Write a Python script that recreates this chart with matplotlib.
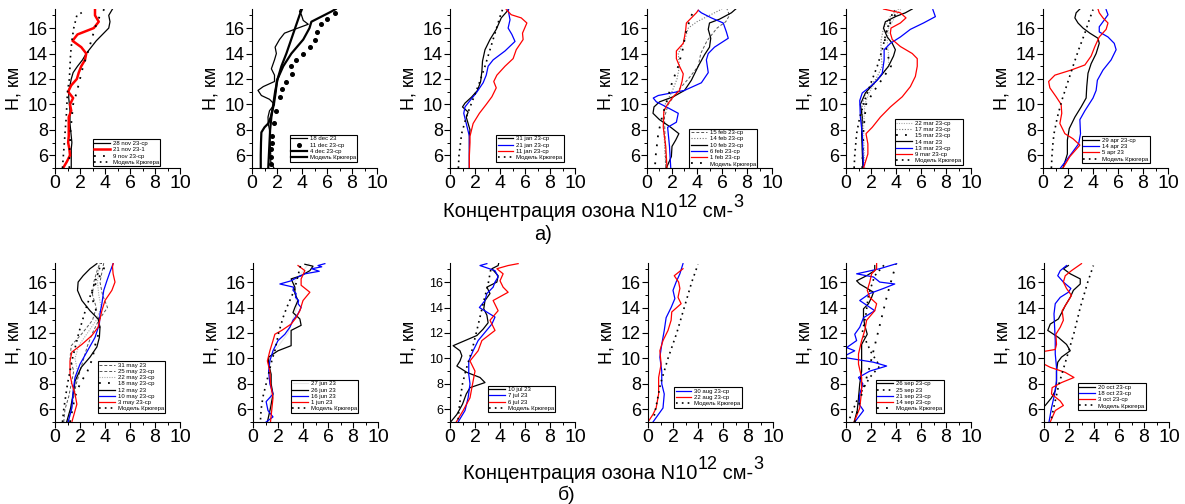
import matplotlib
matplotlib.use("Agg")
import matplotlib.pyplot as plt
from matplotlib.ticker import MultipleLocator

plt.rcParams['font.family'] = ['Liberation Sans', 'DejaVu Sans']

MODEL = 'Модель Крюгера'

# ---- November ----
nov28_h = [5, 5.5, 6, 6.5, 7, 7.5, 8, 8.5, 9, 9.5, 10, 10.5, 11, 11.5, 12, 12.5, 13, 13.5, 14, 14.5, 15, 15.5, 16, 16.5, 17, 17.5]
nov28_x = [1.3, 1.3, 1.3, 1.3, 1.35, 1.3, 1.25, 1.2, 1.2, 1.2, 1.15, 1.1, 1.1, 1.2, 1.3, 1.45, 1.8, 2.2, 2.5, 2.9, 3.3, 3.8, 4.3, 4.4, 4.3, 4.6]
nov21_h = nov28_h
nov21_x = [0.65, 0.95, 1.2, 1.15, 1.05, 1.1, 1.1, 1.1, 1.1, 1.3, 1.2, 1.45, 1.05, 1.3, 1.75, 1.9, 2.1, 2.4, 2.5, 2.1, 1.4, 1.8, 3.1, 3.5, 3.2, 3.2]
nov9_h = [5, 6, 7, 8, 9, 10, 11, 12, 13, 14, 15, 16, 17, 17.5]
nov9_x = [1.15, 1.15, 1.2, 1.25, 1.35, 1.45, 1.75, 2.0, 2.25, 2.6, 2.9, 3.2, 3.6, 3.95]
nov_model_h = [5, 6, 7, 8, 9, 10, 11, 12, 13, 14, 15, 16, 17, 17.3]
nov_model_x = [0.6, 0.67, 0.75, 0.82, 0.9, 0.95, 1.0, 1.15, 1.2, 1.25, 1.35, 1.5, 1.75, 2.3]

# ---- December ----
dec18_h = [5, 5.5, 6, 7, 8, 8.5, 9, 9.5, 10, 10.4, 10.7, 11.1, 11.4, 11.8, 12.3, 12.8, 13.5, 14, 14.5, 15.1, 15.6, 15.9, 16.3, 16.6, 17.05, 17.3, 17.5]
dec18_x = [1.75, 1.5, 1.5, 1.45, 1.4, 1.3, 1.28, 1.4, 1.8, 1.4, 0.75, 0.48, 0.9, 1.8, 1.8, 1.55, 1.8, 1.95, 1.85, 2.2, 2.6, 3.4, 4.5, 4.1, 3.95, 3.8, 3.9]
dec11_h = [5.3, 5.9, 6.5, 7, 7.5, 8.5, 9.5, 10.6, 11.25, 11.8, 12.4, 13.0, 13.5, 14.0, 14.5, 15.1, 15.7, 16.3, 16.7, 17.2]
dec11_x = [1.5, 1.55, 1.55, 1.6, 1.6, 1.75, 1.95, 2.2, 2.4, 2.75, 3.2, 3.15, 3.55, 4.1, 4.6, 5.05, 5.2, 5.5, 6.0, 6.6]
dec4_h = [5, 6, 7, 7.8, 8.2, 8.5, 9, 10, 11, 11.9, 13, 14, 15.1, 16, 16.5, 16.9, 17.3, 17.5]
dec4_x = [0.7, 0.7, 0.72, 0.75, 1.0, 1.3, 1.5, 1.75, 1.9, 2.0, 2.5, 3.15, 4.1, 4.6, 4.75, 5.55, 6.35, 6.7]
dec_model_h = [5, 6, 7, 8, 9, 10, 11, 12, 13, 14, 15, 16, 17, 17.5]
dec_model_x = [1.3, 1.35, 1.4, 1.45, 1.55, 1.7, 1.85, 2.05, 2.35, 2.75, 3.1, 3.45, 3.8, 4.0]

# ---- January ----
jan31_h = [5, 6, 7, 7.5, 8, 8.5, 9, 9.4, 9.8, 10.1, 10.6, 11.1, 11.8, 12.6, 13.4, 14.3, 15.1, 15.9, 16.8, 17.3, 17.5]
jan31_x = [1.55, 1.55, 1.55, 1.55, 1.6, 1.45, 1.3, 1.45, 1.0, 1.2, 1.75, 2.2, 2.45, 2.55, 2.6, 2.8, 3.2, 3.7, 4.1, 4.55, 4.7]
jan21_h = [5, 6, 7, 7.5, 8.5, 9.3, 9.8, 10.3, 10.9, 11.7, 12.3, 13, 13.5, 14.2, 14.95, 15.5, 16, 16.65, 17.45]
jan21_x = [1.55, 1.55, 1.55, 1.55, 1.3, 1.1, 1.2, 1.6, 2.1, 2.65, 2.9, 3.05, 3.45, 4.4, 5.2, 4.95, 4.65, 4.8, 4.65]
jan11_h = [5, 6, 7, 7.5, 8.5, 9.3, 10, 10.6, 11.3, 11.8, 12.3, 13, 13.6, 14.3, 15.1, 15.6, 16.4, 16.8, 17.05, 17.45]
jan11_x = [1.55, 1.55, 1.6, 1.6, 1.85, 2.35, 2.9, 3.35, 3.7, 3.5, 3.75, 4.4, 5.05, 5.3, 5.85, 5.8, 6.15, 5.7, 4.9, 4.5]
jan_model_h = [5, 6, 7.7, 9, 10.3, 11.7, 13, 14.3, 15.6, 16.9, 17.45]
jan_model_x = [0.67, 0.72, 0.93, 1.3, 1.8, 2.35, 2.8, 3.2, 3.6, 4.0, 4.2]

# ---- February ----
feb15_h = [5, 7, 9, 10, 11, 12, 13, 14, 15, 16, 16.5, 17, 17.5]
feb15_x = [1.5, 1.45, 1.4, 1.7, 2.4, 3.3, 4.1, 4.3, 4.8, 5.6, 6.3, 6.6, 6.4]
feb14_h = [5, 7, 9, 10, 11, 12, 13, 14, 15, 16, 16.5, 17, 17.5]
feb14_x = [1.5, 1.4, 1.3, 1.45, 2.0, 2.4, 2.6, 2.5, 3.0, 3.3, 4.0, 5.0, 6.0]
feb10_h = [5, 5.9, 6.7, 7.2, 7.7, 8.2, 8.8, 9.3, 9.8, 10.2, 10.6, 11.1, 11.9, 13, 13.9, 14.5, 15.2, 15.9, 16.4, 16.7, 17.2, 17.5]
feb10_x = [1.55, 1.95, 2.0, 2.3, 2.55, 1.9, 1.0, 0.48, 0.56, 1.0, 2.1, 3.0, 3.55, 4.1, 4.6, 5.0, 5.1, 4.9, 5.0, 5.8, 6.75, 7.1]
feb6_h = [5, 6.7, 7.7, 8.2, 8.6, 9.3, 9.8, 10.2, 10.5, 10.7, 11.1, 11.7, 12.5, 13.5, 14, 14.5, 15.2, 15.7, 16.4, 16.8, 17.2, 17.4]
feb6_x = [1.9, 1.8, 1.7, 1.65, 2.35, 2.5, 1.55, 0.75, 0.5, 0.9, 3.0, 4.35, 4.9, 4.75, 4.9, 5.4, 6.5, 6.35, 6.1, 5.15, 4.35, 4.1]
feb1_h = [5, 6.7, 8.2, 9.5, 10.1, 10.6, 11.1, 11.8, 12.4, 13, 13.6, 14.2, 14.8, 15.3, 15.9, 16.4, 16.8, 17.2, 17.4]
feb1_x = [1.6, 1.5, 1.3, 1.35, 1.7, 2.1, 2.6, 2.8, 2.9, 2.6, 2.35, 2.35, 2.9, 3.0, 3.1, 3.15, 3.55, 3.95, 4.1]
feb_model_h = [5.3, 6, 7.7, 9, 10.3, 11.7, 13, 14.3, 15.6, 16.9, 17.4]
feb_model_x = [0.65, 0.7, 0.9, 1.2, 1.6, 2.0, 2.5, 2.85, 3.1, 3.5, 3.8]

# ---- March ----
mar_dot_h = [5, 8, 10, 11, 12, 13, 14, 15, 16, 17, 17.5]
mar22_x = [1.5, 1.4, 1.5, 1.9, 2.5, 3.4, 3.4, 3.3, 3.4, 4.0, 4.4]
mar17_x = [1.4, 1.3, 1.3, 1.6, 2.4, 2.9, 2.8, 2.8, 3.0, 3.6, 4.2]
mar15_x = [1.3, 1.4, 1.6, 2.2, 2.9, 3.6, 3.3, 3.1, 3.3, 3.9, 4.1]
mar14_h = [5, 7.7, 9, 10, 10.9, 11.5, 12.2, 13, 13.8, 14.3, 14.8, 15.3, 16, 16.5, 16.9, 17.2, 17.5]
mar14_x = [1.35, 1.25, 1.3, 1.15, 1.55, 2.1, 2.75, 3.4, 3.8, 3.95, 3.7, 3.3, 3.0, 3.15, 3.95, 4.75, 5.3]
mar13_h = [5, 7.7, 9, 10.3, 10.9, 11.4, 11.9, 12.45, 13.5, 14.3, 14.8, 15.3, 15.9, 16.4, 16.9, 17.45]
mar13_x = [1.4, 1.3, 1.15, 1.1, 1.3, 1.95, 2.5, 2.9, 3.05, 3.05, 3.55, 4.35, 5.15, 6.2, 7.15, 6.95]
mar9_h = [5, 6.1, 6.9, 7.7, 8.2, 9, 9.8, 10.6, 11.4, 12.2, 13, 13.6, 14, 14.55, 15.1, 15.6, 16, 16.4, 16.8, 17.2, 17.5]
mar9_x = [1.4, 1.75, 1.75, 1.6, 2.1, 2.75, 3.55, 4.5, 5.15, 5.55, 5.7, 5.7, 5.3, 4.35, 3.7, 3.55, 3.6, 4.35, 4.8, 4.35, 3.0]
mar_model_h = [5, 6, 7.7, 9, 10.3, 11.7, 13, 14.3, 15.6, 16.9, 17.4]
mar_model_x = [0.65, 0.7, 0.85, 1.1, 1.5, 2.0, 2.5, 2.9, 3.2, 3.6, 3.9]

# ---- April ----
apr29_h = [5, 6.1, 7.2, 8.1, 9, 9.8, 10.5, 11.4, 12.45, 13.2, 14, 14.8, 15.2, 15.6, 16, 16.4, 16.8, 17.2, 17.5]
apr29_x = [1.6, 1.95, 1.95, 2.1, 2.55, 3.05, 3.45, 3.5, 3.6, 3.85, 4.25, 4.5, 4.4, 3.75, 3.2, 2.8, 2.55, 2.65, 2.95]
apr14_h = [5, 6.1, 6.9, 7.7, 8.8, 9.5, 10.5, 11.1, 11.9, 12.7, 13.5, 14.3, 14.8, 15.3, 15.7, 16.1, 16.5, 17.05, 17.45]
apr14_x = [1.4, 2.25, 2.85, 3.0, 2.95, 3.35, 4.0, 4.25, 4.35, 4.8, 5.45, 5.85, 5.7, 5.2, 4.5, 4.5, 4.8, 5.2, 5.05]
apr5_h = [5, 5.9, 6.8, 7.3, 7.7, 8.5, 9.3, 10, 10.6, 11.3, 11.8, 12.3, 12.7, 13.1, 13.8, 14.55, 15.3, 15.9, 16.4, 16.8, 17.2, 17.5]
apr5_x = [1.6, 2.15, 2.95, 2.4, 1.75, 1.35, 1.5, 1.45, 1.05, 0.55, 0.45, 0.95, 2.25, 3.35, 3.85, 4.15, 4.5, 5.05, 5.2, 4.8, 4.5, 4.4]
apr_model_h = [5, 6, 7, 7.7, 9, 10.3, 11.5, 13, 14.3, 15.6, 16.5, 17.45]
apr_model_x = [0.67, 0.72, 0.8, 0.88, 1.15, 1.5, 1.9, 2.4, 2.85, 3.35, 3.65, 4.0]

# ---- May ----
may_dash_h = [5, 6, 7, 8, 9, 10, 11, 12, 13, 14, 15, 16, 17, 17.5]
may31_x = [0.7, 0.8, 1.1, 1.3, 1.5, 1.2, 1.3, 2.2, 3.0, 3.3, 3.0, 3.1, 3.4, 3.6]
may25_x = [1.0, 1.3, 1.5, 1.7, 2.0, 2.3, 2.6, 3.0, 3.5, 4.2, 3.8, 3.6, 3.8, 3.9]
may22_x = [1.1, 1.25, 1.4, 1.6, 1.8, 1.6, 1.9, 2.6, 3.3, 3.7, 3.5, 3.4, 3.5, 3.6]
may18_x = [1.2, 1.4, 1.6, 2.0, 2.6, 3.0, 3.2, 3.5, 3.6, 3.2, 2.9, 3.3, 3.9, 4.0]
may12_h = [5, 6.1, 7.45, 8.2, 9.3, 10.1, 10.9, 11.65, 12.45, 13.1, 13.75, 14.55, 15.35, 16, 16.5, 17.05, 17.45]
may12_x = [0.93, 1.25, 1.5, 1.6, 2.1, 2.8, 3.35, 3.55, 3.6, 3.45, 2.8, 2.15, 1.8, 1.85, 2.25, 2.8, 3.35]
may10_h = [5, 6.1, 7.45, 8.5, 9.55, 10.6, 11.65, 12.7, 13.5, 14.3, 15.35, 16.1, 16.8, 17.45]
may10_x = [1.05, 1.35, 1.45, 1.6, 2.0, 2.6, 3.2, 3.55, 3.6, 3.75, 3.9, 4.15, 4.4, 4.65]
may3_h = [5, 6.4, 7.2, 8, 8.75, 9.8, 10.5, 11.1, 11.8, 12.45, 13.1, 13.75, 14.55, 15.35, 16, 16.65, 17.2, 17.45]
may3_x = [1.35, 1.75, 1.6, 1.35, 1.2, 1.2, 1.35, 2.15, 2.95, 3.45, 3.6, 3.75, 4.0, 4.55, 4.8, 4.65, 4.6, 4.65]
may_model_h = [5, 6, 8, 10, 12, 14, 16, 17.5]
may_model_x = [0.6, 0.7, 1.0, 1.4, 1.9, 2.5, 3.2, 3.7]

# ---- June ----
jun27_h = [5, 8, 10, 12, 14, 16, 17.5]
jun27_x = [1.2, 1.5, 1.3, 2.8, 3.5, 3.3, 4.5]
jun26_h = [5, 6.1, 7.2, 8, 8.75, 9.55, 10.1, 10.6, 11, 11.5, 12.2, 12.6, 13.1, 13.6, 14, 14.55, 15.1, 15.6, 16.25, 16.5, 16.9, 17.25, 17.4]
jun26_x = [1.15, 1.4, 1.6, 1.45, 1.45, 1.25, 1.25, 2.0, 3.05, 3.05, 3.05, 3.85, 3.75, 3.2, 3.35, 3.6, 3.35, 3.35, 3.05, 3.85, 4.55, 4.8, 4.15]
jun16_h = [5, 5.4, 5.9, 6.6, 7.2, 8, 9, 9.8, 10.6, 11.4, 11.9, 12.45, 13, 13.5, 14, 14.3, 14.55, 14.8, 15.1, 15.35, 15.6, 15.85, 16.1, 16.4, 16.65, 16.85, 17.05, 17.2, 17.3, 17.45]
jun16_x = [1.05, 1.6, 1.2, 1.05, 1.6, 1.35, 1.25, 1.35, 1.6, 2.0, 2.55, 2.95, 3.2, 3.6, 3.85, 3.6, 3.65, 3.4, 3.45, 3.2, 3.25, 2.15, 3.05, 3.6, 4.15, 5.3, 4.7, 5.5, 5.2, 5.75]
jun1_h = [5, 6.9, 8, 9, 9.8, 10.6, 11.4, 11.9, 12.2, 12.7, 13.2, 13.75, 14.55, 15.2, 15.75, 16.25, 16.9, 17.3]
jun1_x = [1.4, 1.6, 1.4, 1.35, 1.15, 1.35, 1.6, 1.75, 2.3, 3.05, 3.45, 3.75, 4.0, 4.55, 3.85, 3.85, 4.15, 3.6]
jun_model_h = [5.2, 6, 7, 8, 9, 10, 10.6, 12, 13.2, 14, 15.35, 16.5, 17.3]
jun_model_x = [0.6, 0.65, 0.8, 1.05, 1.3, 1.55, 1.75, 2.05, 2.4, 2.7, 3.3, 3.6, 3.8]

# ---- July ----
jul10_h = [5, 5.6, 6.4, 7.2, 7.7, 8.1, 8.5, 8.9, 9.4, 9.8, 10.2, 10.6, 11, 11.4, 11.8, 12.3, 12.8, 13.4, 13.9, 14.55, 15.1, 15.6, 16, 16.5, 17.05, 17.3, 17.5]
jul10_x = [0.05, 0.55, 1.0, 1.3, 1.6, 2.8, 2.4, 1.35, 0.55, 0.8, 0.95, 0.8, 0.25, 1.2, 2.15, 2.65, 3.05, 2.95, 2.7, 2.8, 3.2, 2.95, 3.75, 3.85, 3.35, 3.85, 3.9]
jul7_h = [5, 5.9, 6.9, 8, 8.75, 9.8, 10.6, 11.4, 12.05, 12.7, 13.25, 14, 14.55, 15.1, 15.6, 16, 16.4, 16.9, 17.3, 17.45]
jul7_x = [0.65, 1.2, 1.45, 1.6, 1.5, 1.5, 1.85, 2.25, 2.8, 3.35, 3.6, 2.35, 2.8, 2.95, 3.45, 3.6, 3.85, 3.6, 2.4, 2.95]
jul6_h = [5, 5.9, 6.9, 7.7, 9, 9.8, 10.6, 11.4, 12.2, 13, 13.75, 14.55, 15.2, 15.6, 16.1, 16.65, 17.05, 17.3, 17.45]
jul6_x = [0.5, 1.05, 1.6, 1.75, 2.0, 1.6, 2.25, 2.55, 3.6, 3.2, 3.85, 3.45, 4.65, 4.25, 4.0, 4.25, 3.75, 4.65, 5.45]
jul_model_h = [5.2, 6, 7, 8, 9, 10, 10.6, 12, 13.25, 14.5, 15.85, 17.2]
jul_model_x = [0.65, 0.72, 0.85, 1.0, 1.25, 1.55, 1.75, 2.1, 2.4, 2.7, 3.05, 3.3]

# ---- August ----
aug30_h = [5, 6.1, 7.2, 8, 9, 10.1, 11.1, 12.2, 13.2, 14, 14.7, 15.35, 16, 16.65, 17.45]
aug30_x = [0.4, 1.2, 1.3, 1.1, 1.1, 0.95, 1.1, 1.3, 1.45, 1.85, 2.15, 2.0, 2.25, 2.55, 2.8]
aug22_h = [5, 5.6, 6.1, 7.2, 8.5, 9.55, 10.6, 11.4, 12.2, 13, 13.65, 14.3, 14.8, 15.5, 16, 16.5, 17.05]
aug22_x = [0.0, 0.4, 0.65, 0.85, 0.85, 1.05, 0.95, 1.2, 1.6, 1.85, 1.9, 2.65, 2.4, 2.55, 2.45, 2.1, 2.8]
aug_model_h = [5.5, 6, 8, 10, 12, 14, 16, 17.4]
aug_model_x = [0.5, 0.6, 1.0, 1.6, 2.3, 2.9, 3.5, 4.0]

# ---- September ----
sep26_h = [5, 5.9, 6.9, 8, 9, 10.1, 11.1, 11.9, 12.6, 13.2, 13.9, 14.3, 14.8, 15.2, 15.5, 15.85, 16.1, 16.5, 16.9, 17.3]
sep26_x = [0.65, 0.9, 1.0, 1.1, 1.25, 1.25, 1.25, 1.7, 1.5, 1.4, 1.4, 1.8, 2.05, 2.2, 1.7, 1.1, 0.85, 1.65, 2.3, 2.3]
sep25_h = [5.3, 7, 8.5, 9.4, 10.5, 12, 13.5, 15, 16.5, 17.4]
sep25_x = [0.3, 1.0, 1.9, 2.7, 2.0, 1.3, 1.6, 1.8, 2.3, 3.1]
sep21_h = [5, 5.9, 6.4, 7.2, 8, 8.5, 9, 9.4, 9.7, 10.1, 10.6, 10.85, 11.4, 11.9, 12.45, 13.2, 13.75, 14.55, 15.1, 15.5, 15.85, 16, 16.4, 16.65, 17.05, 17.45]
sep21_x = [0.7, 1.4, 1.05, 1.1, 1.35, 1.0, 1.9, 3.25, 2.2, -0.3, 0.7, 0.05, 0.85, 0.7, 1.1, 1.4, 2.3, 1.1, 1.9, 3.0, 3.9, 2.7, 2.2, 0.85, 2.7, 4.05]
sep14_h = [5, 6.1, 7.45, 8.5, 9.55, 10.35, 11.4, 12.2, 13, 13.75, 14.3, 14.8, 15.35, 16, 16.65, 17.05, 17.45]
sep14_x = [0.65, 1.1, 1.25, 1.25, 1.0, 1.0, 1.25, 1.5, 1.65, 2.3, 2.45, 1.9, 1.7, 1.9, 2.05, 2.45, 2.45]
sep_model_h = [5, 7, 9, 11, 13, 15, 17.4]
sep_model_x = [0.7, 1.2, 1.8, 2.3, 2.8, 3.3, 4.0]

# ---- October ----
oct20_h = [6.3, 6.9, 7.45, 8, 9, 9.7, 10.1, 10.6, 11.1, 11.65, 12.2, 12.7, 13.1, 13.65, 14.15, 14.8, 15.35, 15.85, 16.25, 16.65, 17.05, 17.3]
oct20_x = [0.1, 0.6, 0.9, 1.0, 1.0, 1.1, 1.4, 2.1, 1.8, 1.15, 0.3, 0.5, 1.15, 1.45, 1.7, 2.1, 2.35, 2.9, 2.9, 2.1, 1.55, 1.95]
oct18_h = [5, 6.1, 7.2, 8.25, 9.3, 10.35, 11.4, 12.45, 13.5, 14.3, 14.8, 15.2, 15.5, 16, 16.5, 16.9, 17.3]
oct18_x = [0.4, 0.6, 0.85, 1.0, 1.0, 0.9, 0.9, 0.85, 0.8, 0.9, 1.3, 1.95, 2.15, 1.55, 1.1, 1.3, 1.8]
oct3_h = [5, 5.9, 6.3, 6.65, 7.2, 7.7, 8.1, 8.5, 8.9, 9.3, 9.55, 9.8, 10.5, 10.7, 11.1, 11.9, 12.45, 13, 13.75, 14.3, 14.95, 15.5, 16, 16.5, 16.9, 17.45]
oct3_x = [0.5, 0.9, 1.55, 1.3, 0.6, 0.65, 1.4, 2.4, 1.7, 0.5, 0.0, -0.5, -0.3, 0.9, 1.0, 0.95, 1.3, 1.55, 1.45, 1.8, 2.2, 1.8, 1.55, 1.7, 2.2, 3.0]
oct_model_h = [5.3, 6, 8, 10, 12, 14, 16, 17.3]
oct_model_x = [0.6, 0.75, 1.2, 1.8, 2.4, 2.9, 3.5, 3.95]

# line styles
ST = {
    'black': dict(color='black', lw=0.9),
    'blue': dict(color='#0000ff', lw=0.9),
    'red': dict(color='#ff0000', lw=0.9),
    'red_thick': dict(color='#ff0000', lw=1.8),
    'black_thick': dict(color='black', lw=1.6),
    'model': dict(color='black', lw=1.2, ls=(0, (1, 2.5))),
    'sparse': dict(color='black', lw=1.3, ls=(0, (1, 4))),
    'bigdots': dict(color='black', lw=0, marker='o', ms=2.6),
    'dash_grey': dict(color='#555555', lw=0.7, ls=(0, (3, 2))),
    'dot_grey': dict(color='#777777', lw=0.8, ls=(0, (1, 1.5))),
    'dot_light': dict(color='#aaaaaa', lw=0.8, ls=(0, (1, 1.2))),
    'ghost': dict(color='#e6e6e6', lw=0.8),
}

panels = [
    # top row
    dict(pos=(55, 9), leg=(0.3, 0.01), series=[
        (nov28_h, nov28_x, '28 nov 23-ср', 'black'),
        (nov21_h, nov21_x, '21 nov 23-1', 'red_thick'),
        (nov9_h, nov9_x, '9 nov 23-ср', 'sparse'),
        (nov_model_h, nov_model_x, MODEL, 'model')]),
    dict(pos=(252, 9), leg=(0.3, 0.04), series=[
        (dec18_h, dec18_x, '18 dec 23', 'black'),
        (dec11_h, dec11_x, '11 dec 23-ср', 'bigdots'),
        (dec4_h, dec4_x, '4 dec 23-ср', 'black_thick'),
        (dec_model_h, dec_model_x, MODEL, 'black_thick')]),
    dict(pos=(450, 9), leg=(0.37, 0.04), series=[
        (jan31_h, jan31_x, '31 jan 23-ср', 'black'),
        (jan21_h, jan21_x, '21 jan 23-ср', 'blue'),
        (jan11_h, jan11_x, '11 jan 23-ср', 'red'),
        (jan_model_h, jan_model_x, MODEL, 'model')]),
    dict(pos=(647, 9), leg=(0.34, 0.0), series=[
        (feb15_h, feb15_x, '15 feb 23-ср', 'dash_grey'),
        (feb14_h, feb14_x, '14 feb 23-ср', 'dot_grey'),
        (feb10_h, feb10_x, '10 feb 23-ср', 'black'),
        (feb6_h, feb6_x, '6 feb 23-ср', 'blue'),
        (feb1_h, feb1_x, '1 feb 23-ср', 'red'),
        (feb_model_h, feb_model_x, MODEL, 'sparse')]),
    dict(pos=(846, 9), leg=(0.39, 0.02), series=[
        (mar_dot_h, mar22_x, '22 mar 23-ср', 'dot_light'),
        (mar_dot_h, mar17_x, '17 mar 23-ср', 'dot_grey'),
        (mar_dot_h, mar15_x, '15 mar 23-ср', 'sparse'),
        (mar14_h, mar14_x, '14 mar 23', 'black'),
        (mar13_h, mar13_x, '13 mar 23-ср', 'blue'),
        (mar9_h, mar9_x, '9 mar 23-ср', 'red'),
        (mar_model_h, mar_model_x, MODEL, 'model')]),
    dict(pos=(1043, 9), leg=(0.31, 0.03), series=[
        (apr29_h, apr29_x, '29 apr 23-ср', 'black'),
        (apr14_h, apr14_x, '14 apr 23', 'blue'),
        (apr5_h, apr5_x, '5 apr 23', 'red'),
        (apr_model_h, apr_model_x, MODEL, 'model')]),
    # bottom row
    dict(pos=(55, 263), leg=(0.34, 0.057), series=[
        (may_dash_h, may31_x, '31 may 23', 'dash_grey'),
        (may_dash_h, may25_x, '25 may 23-ср', 'dash_grey'),
        (may_dash_h, may22_x, '22 may 23-ср', 'dot_light'),
        (may_dash_h, may18_x, '18 may 23-ср', 'sparse'),
        (may12_h, may12_x, '12 may 23', 'black'),
        (may10_h, may10_x, '10 may 23-ср', 'blue'),
        (may3_h, may3_x, '3 may 23-ср', 'red'),
        (may_model_h, may_model_x, MODEL, 'model')]),
    dict(pos=(253, 263), leg=(0.3, 0.057), series=[
        (jun27_h, jun27_x, '27 jun 23', 'ghost'),
        (jun26_h, jun26_x, '26 jun 23', 'black'),
        (jun16_h, jun16_x, '16 jun 23', 'blue'),
        (jun1_h, jun1_x, '1 jun 23', 'red'),
        (jun_model_h, jun_model_x, MODEL, 'model')]),
    dict(pos=(450, 263), leg=(0.3, 0.06), small=True, series=[
        (jul10_h, jul10_x, '10 jul 23', 'black'),
        (jul7_h, jul7_x, '7 jul 23', 'blue'),
        (jul6_h, jul6_x, '6 jul 23', 'red'),
        (jul_model_h, jul_model_x, MODEL, 'model')]),
    dict(pos=(648, 263), leg=(0.21, 0.09), series=[
        (aug30_h, aug30_x, '30 aug 23-ср', 'blue'),
        (aug22_h, aug22_x, '22 aug 23-ср', 'red'),
        (aug_model_h, aug_model_x, MODEL, 'model')]),
    dict(pos=(846, 263), leg=(0.24, 0.057), series=[
        (sep26_h, sep26_x, '26 sep 23-ср', 'black'),
        (sep25_h, sep25_x, '25 sep 23', 'model'),
        (sep21_h, sep21_x, '21 sep 23-ср', 'blue'),
        (sep14_h, sep14_x, '14 sep 23-ср', 'red'),
        (sep_model_h, sep_model_x, MODEL, 'sparse')]),
    dict(pos=(1044, 263), leg=(0.27, 0.075), series=[
        (oct20_h, oct20_x, '20 oct 23-ср', 'black'),
        (oct18_h, oct18_x, '18 oct 23-ср', 'blue'),
        (oct3_h, oct3_x, '3 oct 23-ср', 'red'),
        (oct_model_h, oct_model_x, MODEL, 'model')]),
]

W, H = 1185, 504
fig = plt.figure(figsize=(W / 100, H / 100), dpi=100)

AX_W, AX_H = 125, 159
for p in panels:
    left, top = p['pos']
    ax = fig.add_axes([left / W, (H - top - AX_H) / H, AX_W / W, AX_H / H])
    for h, x, lab, st in p['series']:
        ax.plot(x, h, label=lab, **ST[st])
    ax.set_xlim(0, 10)
    ax.set_ylim(5, 17.5)
    ax.spines['top'].set_visible(False)
    ax.spines['right'].set_visible(False)
    ax.xaxis.set_major_locator(MultipleLocator(2))
    ax.xaxis.set_minor_locator(MultipleLocator(1))
    ax.yaxis.set_major_locator(MultipleLocator(2))
    ax.yaxis.set_minor_locator(MultipleLocator(1))
    ax.tick_params(which='major', direction='out', length=4, width=0.8)
    ax.tick_params(which='minor', direction='out', length=2, width=0.7)
    ax.tick_params(axis='x', labelsize=14, pad=1)
    ax.tick_params(axis='y', labelsize=9 if p.get('small') else 13, pad=1)
    ax.set_yticks([6, 8, 10, 12, 14, 16])
    ax.set_ylabel('H, км', fontsize=13)
    ax.yaxis.set_label_coords(-0.26, 0.5)
    leg = ax.legend(loc='lower left', bbox_to_anchor=p['leg'], fontsize=4.3,
                    frameon=True, fancybox=False, edgecolor='black', framealpha=1,
                    borderpad=0.25, labelspacing=0.18, handlelength=2.6,
                    handletextpad=0.5, borderaxespad=0)
    leg.get_frame().set_linewidth(0.8)

# axis caption: superscripts drawn as separate, slightly smaller text pieces
renderer = fig.canvas.get_renderer()


def caption(x0, baseline, pieces):
    x = x0
    for txt, raise_px, fs in pieces:
        t = fig.text(x / W, 1 - (baseline - raise_px) / H, txt, fontsize=fs,
                     ha='left', va='baseline')
        x += t.get_window_extent(renderer).width


cap_pieces = [('Концентрация озона N10', 0, 14.5), ('12', 10, 13),
              (' см-', 0, 14.5), ('3', 10, 13)]
caption(443, 217, cap_pieces)
fig.text(543 / W, 1 - 240 / H, 'а)', fontsize=14.5, ha='center', va='baseline')
caption(463, 479, cap_pieces)
fig.text(567 / W, 1 - 500 / H, 'б)', fontsize=14, ha='center', va='baseline')

fig.savefig('out.png', dpi=100)
